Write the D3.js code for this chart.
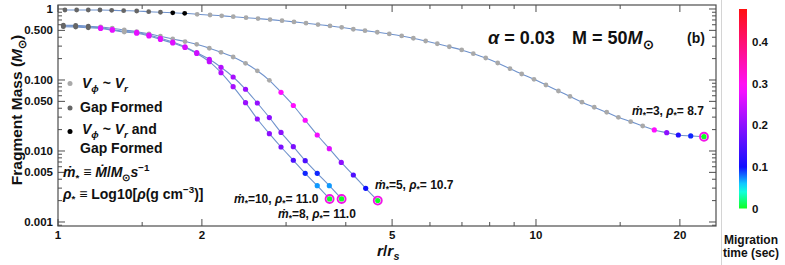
<!DOCTYPE html>
<html>
<head>
<meta charset="utf-8">
<script src="https://cdn.jsdelivr.net/npm/d3@7"></script>
<style>
  body { margin: 0; background: #fff; }
  svg text { font-family: "Liberation Sans", Arial, sans-serif; font-weight: bold; fill: #111; }
</style>
</head>
<body>
<svg id="chart" width="785" height="265"></svg>
<script>
// ---- data ----
// r / r_s, fragment mass (Msun), phase per point: g = gap formed, b = both, v = Vphi~Vr, m = migrating
const rA = [1.034,1.094,1.157,1.224,1.295,1.372,1.461,1.548,1.638,1.738,1.841,1.955,2.080,2.200,2.326,2.474,2.621,2.777,2.942,3.117,3.303,3.499,3.707,3.922,4.148,4.388,4.656,4.933,5.236,5.539,5.877,6.216,6.586,6.992,7.393,7.849,8.316,8.823,9.335,9.904,10.49,11.14,11.78,12.48,13.24,14.06,14.87,15.78,16.72,17.68,18.77,19.85,21.07,22.46];
const mA = [0.968,0.968,0.968,0.968,0.959,0.946,0.937,0.916,0.899,0.884,0.870,0.842,0.823,0.802,0.779,0.754,0.732,0.709,0.684,0.658,0.631,0.603,0.578,0.552,0.518,0.495,0.470,0.445,0.417,0.387,0.354,0.324,0.294,0.265,0.235,0.204,0.1735,0.1443,0.1215,0.1023,0.0850,0.0700,0.0586,0.0487,0.0413,0.0351,0.0298,0.0259,0.0225,0.0198,0.0181,0.0168,0.0163,0.0159];
const phaseA = 'gggggggggbb' + 'vvvvvvvvvvvvvvvvvvvvvvvvvvvvvvvvvvvvvv' + 'mmmmm';
const tA = [0.29,0.2,0.115,0.095,0];

const rB = [1.026,1.089,1.157,1.228,1.299,1.376,1.461,1.550,1.638,1.738,1.844,1.951,2.073,2.193,2.325,2.468,2.612,2.768,2.928,3.107,3.290,3.486,3.695,3.914,4.148,4.403,4.666];
const mB = [0.591,0.587,0.572,0.558,0.535,0.506,0.479,0.447,0.413,0.378,0.348,0.318,0.280,0.2455,0.2109,0.1718,0.1348,0.0990,0.0671,0.0437,0.0271,0.0168,0.01077,0.00689,0.00459,0.00298,0.00200];
const phaseB = 'ggg' + 'vvvvvvvvvvvvvvv' + 'mmmmmmmmm';
const tB = [0.29,0.29,0.285,0.28,0.265,0.2,0.15,0.1,0];

const rC = [1.026,1.089,1.157,1.228,1.299,1.376,1.461,1.550,1.638,1.738,1.844,1.951,2.073,2.193,2.325,2.468,2.612,2.768,2.928,3.107,3.290,3.486,3.695,3.920];
const mC = [0.576,0.572,0.558,0.543,0.514,0.485,0.467,0.430,0.387,0.343,0.294,0.2424,0.1957,0.1510,0.1102,0.0740,0.0474,0.0296,0.01823,0.01150,0.00730,0.00485,0.00325,0.00211];
const phaseC = 'gggmmv' + 'mmmmmmmmmmmmmmmmmm';
const tC = [0.27,0.27,0.27,0.27,0.27,0.265,0.26,0.25,0.24,0.23,0.22,0.21,0.205,0.2,0.2,0.185,0.15,0.095,0.07,0];

const rD = [1.026,1.089,1.157,1.228,1.299,1.376,1.461,1.550,1.638,1.738,1.844,1.951,2.073,2.193,2.325,2.468,2.612,2.768,2.928,3.107,3.290,3.486,3.700];
const mD = [0.563,0.558,0.543,0.531,0.503,0.474,0.455,0.417,0.372,0.332,0.287,0.236,0.1810,0.1267,0.0804,0.0479,0.0282,0.01753,0.01138,0.00740,0.00485,0.00325,0.00211];
const phaseD = 'gggmmv' + 'mmmmmmmmmmmmmmmmm';
const tD = [0.27,0.27,0.27,0.27,0.27,0.265,0.26,0.25,0.24,0.23,0.22,0.21,0.205,0.2,0.185,0.15,0.095,0.07,0];

const xMajor = [1, 2, 5, 10, 20];
const xMinor = [1.5, 3, 4, 6, 7, 8, 9, 15];
const yMajor = [1, 0.5, 0.1, 0.05, 0.01, 0.005, 0.001];
const yLabels = ['1', '0.500', '0.100', '0.050', '0.010', '0.005', '0.001'];
const cbTicks = [0, 0.1, 0.2, 0.3, 0.4];
const cbLabels = ['0', '0.1', '0.2', '0.3', '0.4'];
const tMax = 0.48;

// ---- scales ----
const svg = d3.select('#chart');
const x = d3.scaleLog().domain([1, 23.8]).range([58, 716]);
const y = d3.scaleLog().domain([0.000878, 1.138]).range([226, 5]);
const hue = d3.scaleLinear().domain([0, 0.1, tMax]).range([125, 240, 360]);
const tColor = t => d3.hsl(hue(t), 1, 0.53).toString();
const greys = { g: '#666666', b: '#000000', v: '#a9a9a9' };

// rich text helper: parts = [[text, flags]] flags: i italic, _ subscript, ^ superscript
function rich(g, px, py, parts, size, anchor) {
  const t = g.append('text').attr('x', px).attr('y', py)
    .attr('font-size', size).attr('text-anchor', anchor || 'start');
  let shift = 0;
  parts.forEach(([s, f = '']) => {
    const ts = t.append('tspan').text(s);
    let want = 0;
    if (f.includes('i')) ts.attr('font-style', 'italic');
    if (f.includes('_')) { ts.attr('font-size', size * 0.7); want = size * 0.28; }
    if (f.includes('^')) { ts.attr('font-size', size * 0.7); want = -size * 0.4; }
    if (want !== shift) { ts.attr('dy', want - shift); shift = want; }
  });
  return t;
}

// faint panel separator left of the colour bar
svg.append('line').attr('x1', 721.5).attr('x2', 721.5).attr('y1', 0).attr('y2', 265)
  .attr('stroke', '#d4d4d4').attr('stroke-width', 1);

// ---- frame and ticks ----
const frame = svg.append('g');
frame.append('rect').attr('x', 58).attr('y', 5).attr('width', 658).attr('height', 221)
  .attr('fill', 'none').attr('stroke', '#4d4d4d').attr('stroke-width', 1.2);

const tickG = frame.append('g').attr('stroke', '#4d4d4d').attr('stroke-width', 1);
function xTick(v, len) {
  tickG.append('line').attr('x1', x(v)).attr('x2', x(v)).attr('y1', 226).attr('y2', 226 - len);
  tickG.append('line').attr('x1', x(v)).attr('x2', x(v)).attr('y1', 5).attr('y2', 5 + len);
}
function yTick(v, len) {
  tickG.append('line').attr('x1', 58).attr('x2', 58 + len).attr('y1', y(v)).attr('y2', y(v));
  tickG.append('line').attr('x1', 716).attr('x2', 716 - len).attr('y1', y(v)).attr('y2', y(v));
}
xMajor.forEach(v => xTick(v, 7));
xMinor.forEach(v => xTick(v, 4));
y.ticks().forEach(v => {
  const major = yMajor.some(m => Math.abs(m - v) / m < 1e-6);
  yTick(v, major ? 7 : 4);
});

xMajor.forEach(v => {
  svg.append('text').attr('x', x(v)).attr('y', 238.5).attr('text-anchor', 'middle')
    .attr('font-size', 11.5).text(v);
});
yMajor.forEach((v, i) => {
  svg.append('text').attr('x', 53).attr('y', y(v) + 4).attr('text-anchor', 'end')
    .attr('font-size', 11.5).text(yLabels[i]);
});

// axis labels
rich(svg, 0, 0, [['Fragment Mass ('], ['M', 'i'], ['\u2299', '_'], [')']], 15.5, 'middle')
  .attr('transform', 'translate(22,110) rotate(-90)');
rich(svg, 377, 256, [['r', 'i'], ['/'], ['r', 'i'], ['s', 'i_']], 15.5);

// ---- curves ----
const curves = [
  { r: rA, m: mA, ph: phaseA, t: tA },
  { r: rB, m: mB, ph: phaseB, t: tB },
  { r: rC, m: mC, ph: phaseC, t: tC },
  { r: rD, m: mD, ph: phaseD, t: tD }
];
curves.forEach(c => {
  let k = 0;
  c.pts = c.r.map((r, i) => {
    const p = { r, m: c.m[i], ph: c.ph[i] };
    if (p.ph === 'm') p.t = c.t[k++];
    return p;
  });
});

const line = d3.line().x(d => x(d.r)).y(d => y(d.m)).curve(d3.curveCatmullRom);
const plot = svg.append('g');
curves.forEach(c => {
  plot.append('path').datum(c.pts).attr('d', line)
    .attr('fill', 'none').attr('stroke', '#6f92cc').attr('stroke-width', 1.1);
});
curves.forEach(c => {
  plot.selectAll(null).data(c.pts).join('circle')
    .attr('cx', d => x(d.r)).attr('cy', d => y(d.m))
    .attr('r', d => d.ph === 'm' ? 2.6 : 2.4)
    .attr('fill', d => d.ph === 'm' ? tColor(d.t) : greys[d.ph]);
  const last = c.pts[c.pts.length - 1];
  plot.append('circle').attr('cx', x(last.r)).attr('cy', y(last.m)).attr('r', 4)
    .attr('fill', 'none').attr('stroke', '#f214e8').attr('stroke-width', 1.9);
});

// curve labels
const ann = svg.append('g');
rich(ann, 632, 114.5, [['m\u0307', 'i'], ['*', '_'], ['=3, '], ['\u03c1', 'i'], ['*', '_'], ['=  8.7']], 12);
rich(ann, 375, 189, [['m\u0307', 'i'], ['*', '_'], ['=5, '], ['\u03c1', 'i'], ['*', '_'], ['= 10.7']], 12);
rich(ann, 234, 202.5, [['m\u0307', 'i'], ['*', '_'], ['=10, '], ['\u03c1', 'i'], ['*', '_'], ['= 11.0']], 12);
rich(ann, 278, 217.5, [['m\u0307', 'i'], ['*', '_'], ['=8, '], ['\u03c1', 'i'], ['*', '_'], ['= 11.0']], 12);

// title
rich(ann, 488, 43.5, [['\u03b1', 'i'], [' = 0.03']], 18);
rich(ann, 572, 43.5, [['M = 50'], ['M', 'i'], ['\u2299', '_']], 18);
rich(ann, 687, 42.5, [['(b)']], 14);

// legend
const leg = svg.append('g');
leg.append('circle').attr('cx', 70).attr('cy', 83.5).attr('r', 2.5).attr('fill', greys.v);
rich(leg, 82, 88, [['V', 'i'], ['\u03d5', 'i_'], [' ~ '], ['V', 'i'], ['r', 'i_']], 14);
leg.append('circle').attr('cx', 70).attr('cy', 108).attr('r', 2.5).attr('fill', greys.g);
rich(leg, 80, 112, [['Gap Formed']], 14);
leg.append('circle').attr('cx', 70).attr('cy', 131.5).attr('r', 2.5).attr('fill', greys.b);
rich(leg, 82, 134, [['V', 'i'], ['\u03d5', 'i_'], [' ~ '], ['V', 'i'], ['r', 'i_'], [' and']], 14);
rich(leg, 80, 153, [['Gap Formed']], 14);
rich(leg, 63, 177, [['m\u0307', 'i'], ['*', '_'], [' \u2261 '], ['M\u0307', 'i'], ['/'], ['M', 'i'], ['\u2299', '_'], ['s', 'i'], ['\u22121', '^']], 14);
rich(leg, 63, 198.5, [['\u03c1', 'i'], ['*', '_'], [' \u2261 Log10['], ['\u03c1', 'i'], ['(g cm'], ['\u22123', '^'], [')]']], 14);

// ---- colour bar ----
const cb = d3.scaleLinear().domain([0, tMax]).range([208.5, 9]);
const grad = svg.append('defs').append('linearGradient').attr('id', 'cbar')
  .attr('x1', 0).attr('y1', 1).attr('x2', 0).attr('y2', 0);
d3.range(0, 25).forEach(i => {
  const t = tMax * i / 24;
  grad.append('stop').attr('offset', i / 24).attr('stop-color', tColor(t));
});
svg.append('rect').attr('x', 739).attr('y', cb(tMax)).attr('width', 8)
  .attr('height', cb(0) - cb(tMax)).attr('fill', 'url(#cbar)');
cbTicks.forEach((v, i) => {
  svg.append('text').attr('x', 752).attr('y', cb(v) + 4).attr('font-size', 11.5).text(cbLabels[i]);
});
svg.append('text').attr('x', 751).attr('y', 244).attr('text-anchor', 'middle').attr('font-size', 12).text('Migration');
svg.append('text').attr('x', 751).attr('y', 257).attr('text-anchor', 'middle').attr('font-size', 12).text('time (sec)');
</script>
</body>
</html>
